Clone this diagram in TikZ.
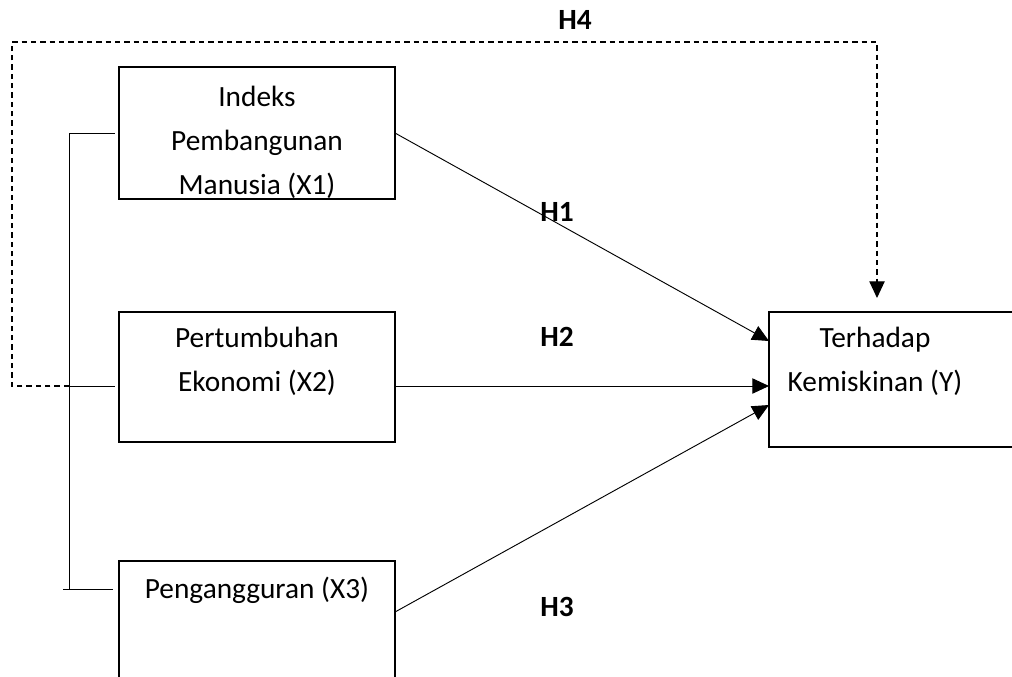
\documentclass[tikz,border=0pt]{standalone}
\usepackage{fontspec}
\setmainfont{Carlito}
\usetikzlibrary{arrows.meta, calc, positioning}
\newcommand{\bodyfont}{\fontsize{22}{33}\selectfont}
\tikzstyle{varbox}=[draw, line width=0.8pt, inner sep=0pt, outer sep=0pt, anchor=north west]
\tikzstyle{vartext}=[align=center, inner sep=0pt]
\tikzstyle{hyp}=[font=\bodyfont\bfseries, inner sep=0pt]
\tikzstyle{line}=[line width=0.7pt]
\tikzstyle{arrow}=[-{Triangle[length=12.5pt,width=11.5pt]}, line width=0.7pt]
\tikzstyle{dashLine}=[line width=0.85pt, dash pattern=on 4pt off 3pt]
\tikzstyle{dashArrow}=[dashLine, -{Triangle[length=12.5pt,width=11.5pt]}]

\begin{document}
\begin{tikzpicture}[x=0.75pt, y=-0.75pt, font=\bodyfont]
      \useasboundingbox (0,0) rectangle (1012,676);
      \clip (0,0) rectangle (1012,676);

      % boxes
      \node[varbox, minimum width=207pt, minimum height=99pt] (x1box) at (119,67) {};
      \node[varbox, minimum width=207pt, minimum height=97.5pt] (x2box) at (119,312) {};
      \node[varbox, minimum width=207pt, minimum height=110pt] (x3box) at (119,561) {};
      \node[varbox, minimum width=195pt, minimum height=101.25pt] (ybox) at (769,312) {};

      \node[vartext] (x1txt) at (257,142) {Indeks\\Pembangunan\\Manusia (X1)};
      \node[vartext] (x2txt) at (257,361) {Pertumbuhan\\Ekonomi (X2)};
      \node[vartext] (x3txt) at (257,590) {Pengangguran (X3)};
      \node[vartext] (ytxt) at (875,361) {Terhadap\\Kemiskinan (Y)};

      \node[hyp] (h4) at (575,20) {H4};
      \node[hyp] (h1) at (557,212) {H1};
      \node[hyp] (h2) at (557,337) {H2};
      \node[hyp] (h3) at (557,607) {H3};

      \coordinate (in1) at ($(ybox.north west)+(0,29)$);
      \coordinate (in2) at ($(ybox.north west)+(0,74)$);
      \coordinate (in3) at ($(ybox.north west)+(0,93)$);
      \coordinate (out3) at ($(x3box.north east)+(0,51)$);

      \coordinate (brtop) at (69,133);
      \coordinate (brmid) at (69,386);
      \coordinate (brbot) at (69,589);
      \coordinate (brend) at (63,589);

      \coordinate (dl1) at (12,386);
      \coordinate (dl2) at (12,42);
      \coordinate (dl3) at (877,42);
      \coordinate (h4tip) at (877,298);

      % bracket
      \draw[line] (brtop) -- (brbot);
      \draw[line] (brtop) -- ($(x1box.west)+(-4,0)$);
      \draw[line] (brmid) -- ($(x2box.west |- in2)+(-4,0)$);
      \draw[line] (brend) -- ($(x3box.west |- brend)+(-6,0)$);

      \draw[dashArrow] (brmid) -- (dl1) -- (dl2) -- (dl3) -- (h4tip);

      \draw[arrow] (x1box.east) -- (in1);
      \draw[arrow] (x2box.east |- in2) -- (in2);
      \draw[arrow] (out3) -- (in3);
\end{tikzpicture}
\end{document}
